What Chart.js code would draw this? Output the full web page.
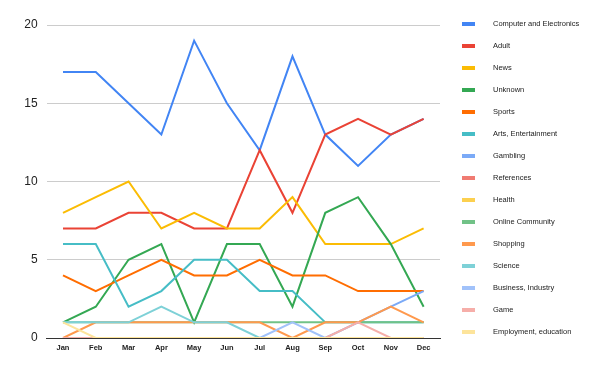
<!DOCTYPE html>
<html>
<head>
<meta charset="utf-8">
<script src="https://cdn.jsdelivr.net/npm/chart.js@4"></script>
<style>
  html, body { margin: 0; padding: 0; background: #fff; }
  #wrap { width: 600px; height: 371px; }
</style>
</head>
<body>
<div id="wrap"><canvas id="chart" width="600" height="371"></canvas></div>
<script>
// Подписи по оси X
const months = ['Jan', 'Feb', 'Mar', 'Apr', 'May', 'Jun', 'Jul', 'Aug', 'Sep', 'Oct', 'Nov', 'Dec'];
const yTicks = [0, 5, 10, 15, 20];

// Значения серий
const computerElectronics = [17, 17, 15, 13, 19, 15, 12, 18, 13, 11, 13, 14];
const adult = [7, 7, 8, 8, 7, 7, 12, 8, 13, 14, 13, 14];
const news = [8, 9, 10, 7, 8, 7, 7, 9, 6, 6, 6, 7];
const unknown = [1, 2, 5, 6, 1, 6, 6, 2, 8, 9, 6, 2];
const sports = [4, 3, 4, 5, 4, 4, 5, 4, 4, 3, 3, 3];
const artsEntertainment = [6, 6, 2, 3, 5, 5, 3, 3, 1, 1, 1, 1];
const gambling = [0, 0, 0, 0, 0, 0, 0, 0, 0, 1, 2, 3];
const references = [0, 0, 0, 0, 0, 0, 0, 0, 0, 0, 0, 0];
const health = [0, 0, 0, 0, 0, 0, 0, 0, 0, 0, 0, 0];
const onlineCommunity = [1, 1, 1, 1, 1, 1, 1, 1, 1, 1, 1, 1];
const shopping = [0, 1, 1, 1, 1, 1, 1, 0, 1, 1, 2, 1];
const science = [1, 1, 1, 2, 1, 1, 0, 0, 0, 0, 0, 0];
const businessIndustry = [0, 0, 0, 0, 0, 0, 0, 1, 0, 0, 0, 0];
const game = [0, 0, 0, 0, 0, 0, 0, 0, 0, 1, 0, 0];
const employmentEducation = [1, 0, 0, 0, 0, 0, 0, 0, 0, 0, 0, 0];

const seriesNames = ['Computer and Electronics', 'Adult', 'News', 'Unknown', 'Sports',
    'Arts, Entertainment', 'Gambling', 'References', 'Health', 'Online Community',
    'Shopping', 'Science', 'Business, Industry', 'Game', 'Employment, education'];
const seriesData = [computerElectronics, adult, news, unknown, sports, artsEntertainment,
    gambling, references, health, onlineCommunity, shopping, science, businessIndustry,
    game, employmentEducation];
const seriesColors = ['#4285F4', '#EA4335', '#FBBC04', '#34A853', '#FF6D01', '#46BDC6',
    '#7BAAF7', '#F07B72', '#FCD04F', '#71C287', '#FF994D', '#7ED1D7', '#A1C2FA',
    '#F6AEA9', '#FDE49B'];

const datasets = seriesNames.map((name, i) => ({
    label: name,
    data: seriesData[i],
    borderColor: seriesColors[i],
    backgroundColor: seriesColors[i],
    borderWidth: 2,
    pointRadius: 0,
    tension: 0,
    // последние серии рисуются сверху
    order: seriesNames.length - i
}));

// Легенда справа рисуется вручную
const rightLegend = {
    id: 'rightLegend',
    afterDraw(chart) {
        const ctx = chart.ctx;
        ctx.save();
        ctx.font = '7.5px "Liberation Sans", Arial, sans-serif';
        ctx.textBaseline = 'middle';
        chart.data.datasets.forEach((ds, i) => {
            const y = 24 + i * 22;
            ctx.fillStyle = ds.borderColor;
            ctx.fillRect(462, y - 2, 13, 4);
            ctx.fillStyle = '#222';
            ctx.fillText(ds.label, 493, y);
        });
        ctx.restore();
    }
};

new Chart(document.getElementById('chart'), {
    type: 'line',
    data: { labels: months, datasets: datasets },
    options: {
        responsive: false,
        animation: false,
        layout: { padding: { top: 25, right: 160, left: 0, bottom: 0 } },
        plugins: {
            legend: { display: false },
            tooltip: { enabled: false }
        },
        scales: {
            x: {
                offset: true,
                grid: { display: false, drawTicks: false },
                border: { display: true, color: '#333', width: 1 },
                ticks: {
                    color: '#222',
                    font: { family: '"Liberation Sans", Arial, sans-serif', size: 7.5, weight: 'bold' },
                    padding: 5,
                    maxRotation: 0,
                    autoSkip: false
                },
                afterFit(scale) { scale.height = 33; }
            },
            y: {
                min: 0,
                max: 20,
                afterBuildTicks(scale) { scale.ticks = yTicks.map(v => ({ value: v })); },
                grid: { color: '#ccc', drawTicks: false },
                border: { display: false },
                ticks: {
                    color: '#222',
                    font: { family: '"Liberation Sans", Arial, sans-serif', size: 12 },
                    padding: 9
                },
                afterFit(scale) { scale.width = 46.6; }
            }
        }
    },
    plugins: [rightLegend]
});
</script>
</body>
</html>
